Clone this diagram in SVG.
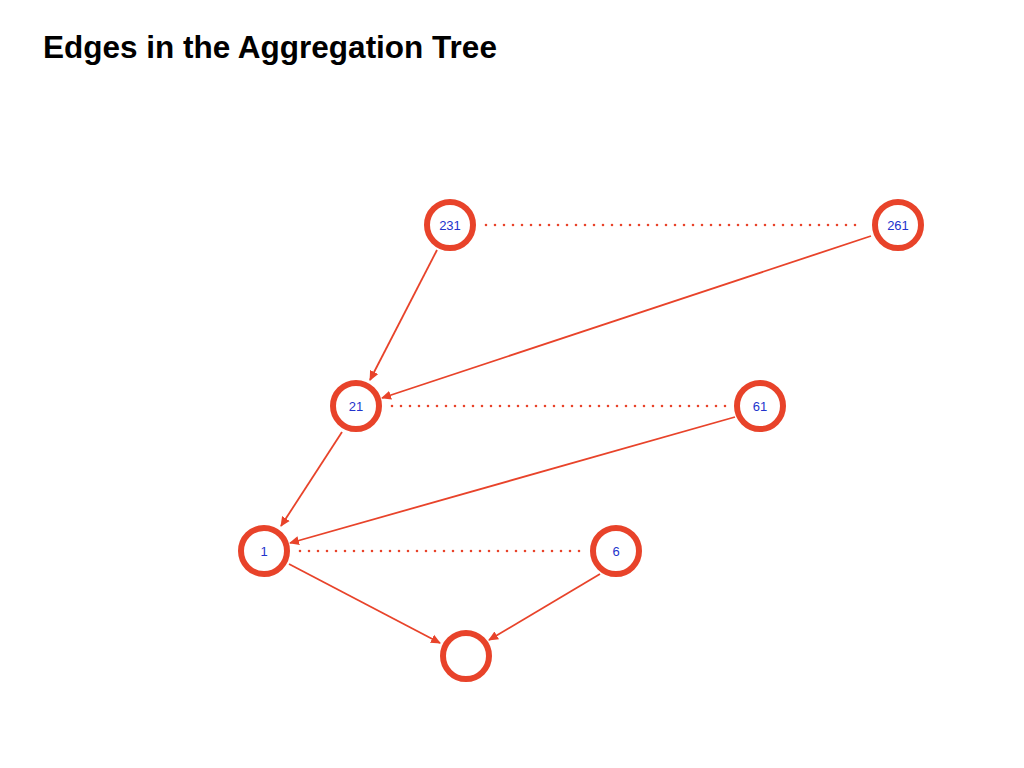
<svg xmlns="http://www.w3.org/2000/svg" width="1024" height="768" viewBox="0 0 1024 768">
<style>
.node{fill:#fff;stroke:#E8432A;stroke-width:6}
.lbl{font-family:"Liberation Sans",Arial,sans-serif;font-size:13px;fill:#2233CC;text-anchor:middle;dominant-baseline:central}
.edge{stroke:#E8432A;stroke-width:1.8;fill:none;marker-end:url(#ah)}
.dot{stroke:#E8432A;stroke-width:2.6;fill:none;stroke-dasharray:0 9;stroke-linecap:round}
.title{font-family:"Liberation Sans",Arial,sans-serif;font-size:31.5px;font-weight:bold;fill:#000}
</style>
<defs>
<marker id="ah" viewBox="0 0 10 10" refX="9" refY="5" markerWidth="10" markerHeight="10" markerUnits="userSpaceOnUse" orient="auto">
<path d="M0,0.5 L10,5 L0,9.5 z" fill="#E8432A"/>
</marker>
</defs>
<rect width="1024" height="768" fill="#fff"/>
<text class="title" x="43" y="58">Edges in the Aggregation Tree</text>
<g id="connectors">
<line class="dot" x1="486" y1="225" x2="864" y2="225"/>
<line class="dot" x1="392" y1="406" x2="726" y2="406"/>
<line class="dot" x1="300" y1="551" x2="582" y2="551"/>
<line class="edge" x1="437" y1="250" x2="370" y2="380"/>
<line class="edge" x1="871" y1="236" x2="382" y2="398"/>
<line class="edge" x1="342" y1="432" x2="281" y2="526"/>
<line class="edge" x1="735" y1="417" x2="290" y2="543"/>
<line class="edge" x1="289" y1="564" x2="440" y2="643"/>
<line class="edge" x1="600" y1="574" x2="489" y2="640"/>
</g>
<g id="n231"><circle class="node" cx="450" cy="225" r="23"/><text class="lbl" x="450" y="225">231</text></g>
<g id="n261"><circle class="node" cx="898" cy="225" r="23"/><text class="lbl" x="898" y="225">261</text></g>
<g id="n21"><circle class="node" cx="356" cy="406" r="23"/><text class="lbl" x="356" y="406">21</text></g>
<g id="n61"><circle class="node" cx="760" cy="406" r="23"/><text class="lbl" x="760" y="406">61</text></g>
<g id="n1"><circle class="node" cx="264" cy="551" r="23"/><text class="lbl" x="264" y="551">1</text></g>
<g id="n6"><circle class="node" cx="616" cy="551" r="23"/><text class="lbl" x="616" y="551">6</text></g>
<g id="n0"><circle class="node" cx="466" cy="656" r="23"/></g>
</svg>
